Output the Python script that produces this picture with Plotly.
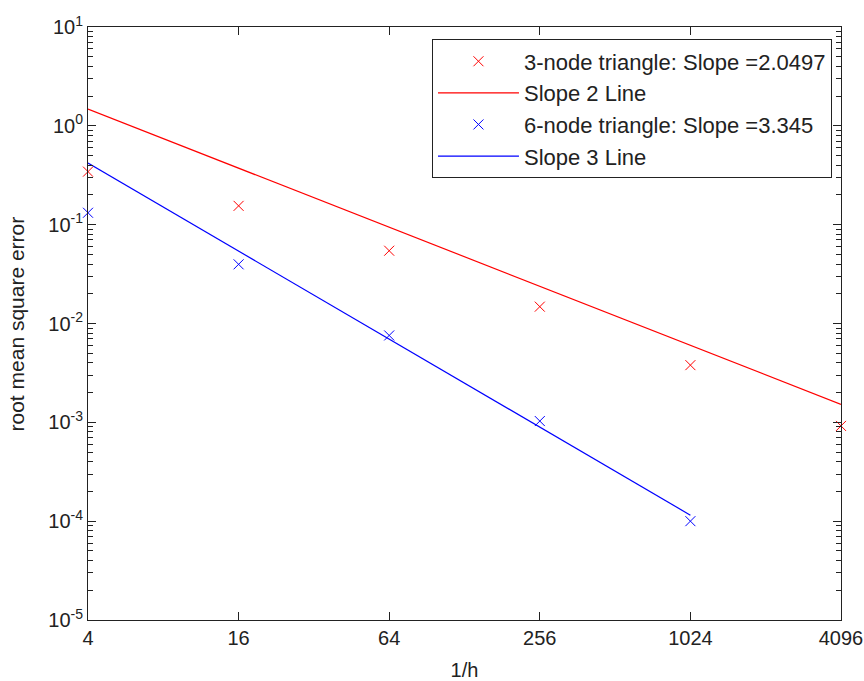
import numpy as np
import plotly.graph_objects as go

# data
inv_h = [4, 16, 64, 256, 1024, 4096]
err_3node = [0.344, 0.155, 0.0545, 0.0148, 0.00379, 0.00092]
inv_h_6 = [4, 16, 64, 256, 1024]
err_6node = [0.132, 0.0397, 0.00757, 0.00103, 0.000100]
line2_x = [4, 4096]
line2_y = [1.476, 0.00152]
line3_x = [4, 1024]
line3_y = [0.42, 0.000115]

x_ticks = [4, 16, 64, 256, 1024, 4096]
x_ticktext = ["4", "16", "64", "256", "1024", "4096"]
y_exps = [-5, -4, -3, -2, -1, 0, 1]

FONT = "Liberation Sans, Arial, sans-serif"
RED = "#ff0000"
BLUE = "#0000ff"
INK = "#222222"

fig = go.Figure()
fig.add_trace(go.Scatter(x=inv_h, y=err_3node, mode="markers", cliponaxis=False,
                         marker=dict(symbol="x-thin-open", size=10, color=RED, line=dict(width=1, color=RED)),
                         name="3-node triangle: Slope =2.0497"))
fig.add_trace(go.Scatter(x=line2_x, y=line2_y, mode="lines",
                         line=dict(color=RED, width=1.2), name="Slope 2 Line"))
fig.add_trace(go.Scatter(x=inv_h_6, y=err_6node, mode="markers", cliponaxis=False,
                         marker=dict(symbol="x-thin-open", size=10, color=BLUE, line=dict(width=1, color=BLUE)),
                         name="6-node triangle: Slope =3.345"))
fig.add_trace(go.Scatter(x=line3_x, y=line3_y, mode="lines",
                         line=dict(color=BLUE, width=1.2), name="Slope 3 Line"))

minor_vals = [m * 10.0 ** e for e in y_exps[:-1] for m in range(2, 10)]

eps = 1e-6
fig.update_layout(
    width=864, height=681,
    margin=dict(l=88, r=23, t=27, b=61),
    paper_bgcolor="white", plot_bgcolor="white",
    font=dict(family=FONT, size=20, color=INK),
    showlegend=True,
    legend=dict(x=0.988, xanchor="right", y=0.979, yanchor="top",
                bgcolor="white", bordercolor=INK, borderwidth=1,
                itemwidth=81, tracegroupgap=0,
                font=dict(family=FONT, size=22, color=INK)),
    annotations=[dict(text="root mean square error", xref="paper", yref="paper",
                      x=-0.0943, y=0.5, xanchor="center", yanchor="middle",
                      textangle=-90, showarrow=False,
                      font=dict(family=FONT, size=21, color=INK))],
)
fig.update_xaxes(
    type="log", range=[np.log10(4) - eps, np.log10(4096) + eps], automargin=False,
    tickmode="array", tickvals=x_ticks, ticktext=x_ticktext,
    ticks="inside", ticklen=8, tickwidth=1, tickcolor=INK,
    showline=True, linecolor=INK, linewidth=1, mirror="ticks",
    showgrid=False, zeroline=False,
    title=dict(text="1/h", font=dict(size=20), standoff=14),
)
fig.update_yaxes(
    type="log", range=[-5 - eps, 1 + eps], automargin=False,
    tickmode="array", tickvals=[10.0 ** e for e in y_exps],
    ticktext=["10<sup>%d</sup>" % e for e in y_exps],
    ticks="inside", ticklen=8, tickwidth=1, tickcolor=INK,
    minor=dict(tickmode="array", tickvals=minor_vals, ticks="inside", ticklen=5, tickcolor=INK),
    showline=True, linecolor=INK, linewidth=1, mirror="ticks",
    showgrid=False, zeroline=False,
)

fig.write_html("out.html")
